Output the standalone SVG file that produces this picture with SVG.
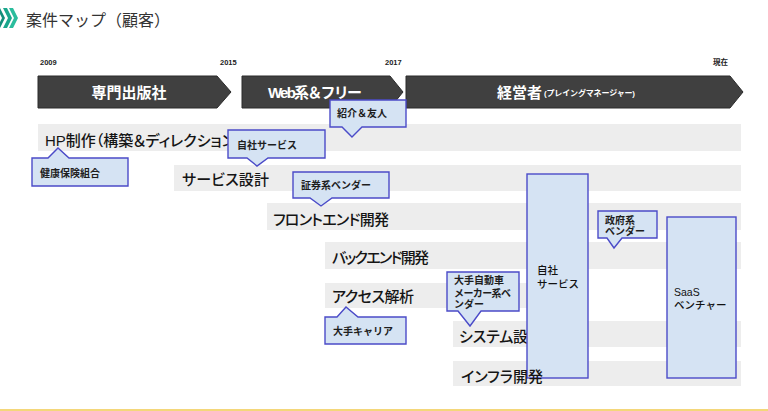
<svg xmlns="http://www.w3.org/2000/svg" width="768" height="411" viewBox="0 0 768 411">
<style>
text{font-family:"Liberation Sans","Noto Sans CJK JP",sans-serif}
.bar{fill:#ededed}
.row{font-size:15px;fill:#151515;font-weight:500;font-feature-settings:"palt"}
.arrow{fill:#404040;stroke:#2b2b2b;stroke-width:1}
.at{fill:#ffffff;font-weight:bold}
.co{fill:#d5e3f3;stroke:#4b4bc8;stroke-width:1.4}
.ct{font-size:10px;font-weight:bold;fill:#1e1e1e}
.bt{font-size:10.5px;fill:#111;font-weight:500}
.yr{font-size:7.5px;font-weight:bold;fill:#222}
.chev{stroke:none}
</style>
<rect width="768" height="411" fill="#ffffff"/>
<g id="header">
<polygon class="chev" fill="#138e7a" points="-3,8 0,8 5,18 0,28 -3,28 2,18"/>
<polygon class="chev" fill="#1aa68c" points="3,8 7,8 12,18 7,28 3,28 8,18"/>
<polygon class="chev" fill="#2bbd9d" points="9,8 13,8 18,18 13,28 9,28 14,18"/>
<text x="26" y="26" font-size="16" fill="#333">案件マップ（顧客）</text>
</g>
<g id="years">
<text class="yr" x="40" y="65">2009</text>
<text class="yr" x="220" y="65">2015</text>
<text class="yr" x="385" y="65">2017</text>
<text class="yr" x="713" y="65" font-size="8.5">現在</text>
</g>
<g id="rows">
<g id="row-hp"><rect class="bar" x="38" y="124" width="703" height="27"/><text class="row" x="45" y="146" textLength="190">HP制作（構築＆ディレクション</text></g>
<g id="row-service"><rect class="bar" x="174" y="165" width="567" height="26"/><text class="row" x="182" y="185" textLength="87">サービス設計</text></g>
<g id="row-front"><rect class="bar" x="267" y="203" width="474" height="27"/><text class="row" x="273" y="225" textLength="116">フロントエンド開発</text></g>
<g id="row-back"><rect class="bar" x="325" y="242" width="416" height="27"/><text class="row" x="332" y="263" textLength="97">バックエンド開発</text></g>
<g id="row-access"><rect class="bar" x="325" y="283" width="230" height="25"/><text class="row" x="332" y="302" textLength="82">アクセス解析</text></g>
<g id="row-system"><rect class="bar" x="453" y="321" width="288" height="26"/><text class="row" x="459" y="342" textLength="84">システム設計</text></g>
<g id="row-infra"><rect class="bar" x="453" y="361" width="288" height="25"/></g>
</g>
<g id="phases">
<g id="phase-1"><polygon class="arrow" points="38,76 217,76 231,92 217,108 38,108"/><text class="at" x="129" y="98" font-size="15" text-anchor="middle">専門出版社</text></g>
<g id="phase-2"><polygon class="arrow" points="242,76 390,76 403,92 390,108 242,108"/><text class="at" x="268" y="98" font-size="15" textLength="94">Web系＆フリー</text></g>
<g id="phase-3"><polygon class="arrow" points="406,76 730,76 743,92 730,108 406,108"/><text class="at" x="497" y="98" font-size="15">経営者</text><text class="at" x="544" y="96" font-size="8" textLength="91">(プレイングマネージャー)</text></g>
</g>
<g id="connectors"></g>
<g id="callouts">
<g id="c-shokai"><path class="co" d="M330,100 H406 V127 H362 L352,137 L342,127 H330 Z"/><text class="ct" x="337" y="117">紹介＆友人</text></g>
<g id="c-jisha1"><path class="co" d="M228,130 H325 V158 H268 L257,166 L247,158 H228 Z"/><text class="ct" x="237" y="149">自社サービス</text></g>
<g id="c-kenpo"><path class="co" d="M32,158 H48 L58,148 L69,158 H128 V186 H32 Z"/><text class="ct" x="40" y="177">健康保険組合</text></g>
<g id="c-shoken"><path class="co" d="M293,172 H389 V198 H332 L321,206 L310,198 H293 Z"/><text class="ct" x="301" y="189">証券系ベンダー</text></g>
<g id="c-seifu"><path class="co" d="M598,211 H657 V238 H622 L614,248 L607,238 H598 Z"/><text class="ct" x="605" y="224">政府系</text><text class="ct" x="605" y="235">ベンダー</text></g>
<g id="c-carrier"><path class="co" d="M325,317 H337 L346,307 L358,317 H406 V344 H325 Z"/><text class="ct" x="333" y="335">大手キャリア</text></g>
<g id="c-auto"><path class="co" d="M447,272 H519 V311 H481 L470,326 L458,311 H447 Z"/><text class="ct" x="454" y="284">大手自動車</text><text class="ct" x="454" y="297" textLength="57">メーカー系ベ</text><text class="ct" x="454" y="308">ンダー</text></g>
<g id="b-jisha2"><rect class="co" x="527" y="174" width="61" height="204"/><text class="bt" x="537" y="274">自社</text><text class="bt" x="537" y="288">サービス</text></g>
<g id="b-saas"><rect class="co" x="667" y="217" width="69" height="161"/><text class="bt" x="674" y="296">SaaS</text><text class="bt" x="674" y="309">ベンチャー</text></g>
</g>
<text class="row" x="461" y="382" textLength="82">インフラ開発</text>
<rect x="0" y="409" width="768" height="2" fill="#f4d77a"/>
</svg>
